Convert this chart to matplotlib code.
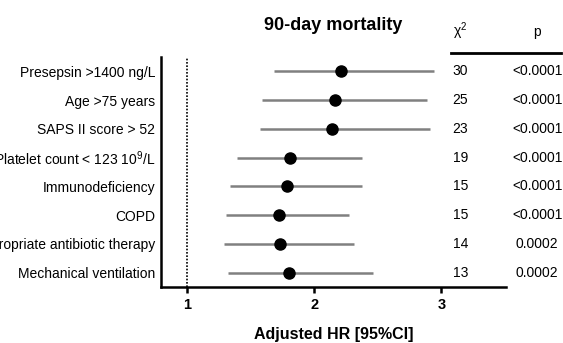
import matplotlib.pyplot as plt
import matplotlib.transforms as mtransforms

labels = ['Presepsin >1400 ng/L', 'Age >75 years', 'SAPS II score > 52',
          r'Platelet count < 123 10$^9$/L', 'Immunodeficiency', 'COPD',
          'Inappropriate antibiotic therapy', 'Mechanical ventilation']
hr = [2.21, 2.16, 2.14, 1.81, 1.79, 1.72, 1.73, 1.80]
lo = [1.68, 1.59, 1.57, 1.39, 1.34, 1.31, 1.29, 1.32]
hi = [2.94, 2.89, 2.91, 2.38, 2.38, 2.27, 2.31, 2.46]
chi2 = ['30', '25', '23', '19', '15', '15', '14', '13']
pvals = ['<0.0001', '<0.0001', '<0.0001', '<0.0001', '<0.0001', '<0.0001',
         '0.0002', '0.0002']

plt.rcParams['font.family'] = ['Liberation Sans', 'DejaVu Sans']
plt.rcParams['mathtext.fontset'] = 'custom'
plt.rcParams['mathtext.rm'] = 'Liberation Sans'

fig = plt.figure(figsize=(5.63, 3.43), dpi=100)
ax = fig.add_axes([0.286, 0.163, 0.613, 0.671])

n = len(labels)
ys = list(range(n, 0, -1))
for y, h, l, u in zip(ys, hr, lo, hi):
    ax.plot([l, u], [y, y], color='#808080', lw=1.8, solid_capstyle='butt', zorder=2)
    ax.plot(h, y, 'o', color='black', ms=8, zorder=3)

ax.axvline(1, color='black', ls=(0, (1, 1)), lw=1.2, zorder=1)
ax.set_xlim(0.795, 3.51)
ax.set_ylim(0.5, 8.5)
ax.set_xticks([1, 2, 3])
ax.set_xticklabels(['1', '2', '3'], fontweight='bold', fontsize=10.5)
ax.set_yticks(ys)
ax.set_yticklabels(labels, fontsize=10)
ax.tick_params(axis='y', length=0, pad=4)
ax.tick_params(axis='x', direction='out', length=4, width=1.8, pad=4)
for s in ['top', 'right']:
    ax.spines[s].set_visible(False)
for s in ['left', 'bottom']:
    ax.spines[s].set_linewidth(1.8)

ax.set_xlabel('Adjusted HR [95%CI]', fontweight='bold', fontsize=11.5, labelpad=11)
fig.text(0.592, 0.927, '90-day mortality', fontweight='bold', fontsize=13,
         ha='center', va='center')

trans = mtransforms.blended_transform_factory(fig.transFigure, ax.transData)
for y, c, p in zip(ys, chi2, pvals):
    ax.text(0.804, y, c, transform=trans, ha='left', va='center', fontsize=10)
    ax.text(0.954, y, p, transform=trans, ha='center', va='center', fontsize=10)

fig.text(0.817, 0.91, 'χ$^{2}$', ha='center', va='center', fontsize=10)
fig.text(0.954, 0.908, 'p', ha='center', va='center', fontsize=10)
fig.add_artist(plt.Line2D([0.801, 0.997], [0.845, 0.845], color='black', lw=2,
                          transform=fig.transFigure))

fig.savefig('out.png', dpi=100)
